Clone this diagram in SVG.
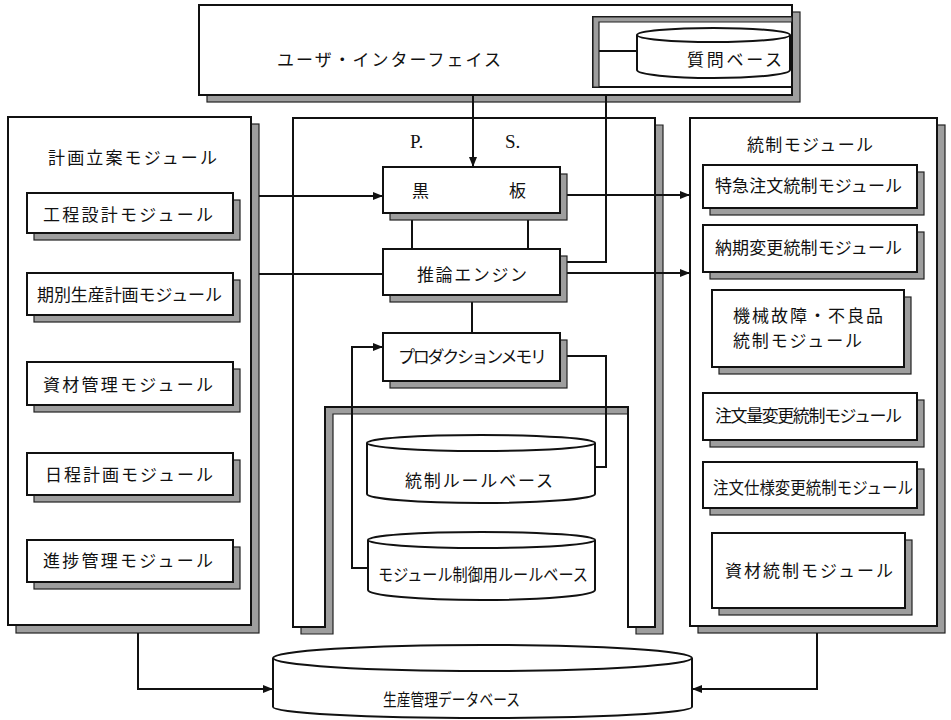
<svg xmlns="http://www.w3.org/2000/svg" width="951" height="720" viewBox="0 0 951 720">
<defs>
<style>
.bx{fill:#fff;stroke:#111;stroke-width:2}
.sh{fill:#9e9e9e;stroke:#222;stroke-width:1.2}
.ln{fill:none;stroke:#111;stroke-width:2}
.cy{fill:#fff;stroke:#111;stroke-width:2}
.t{font-family:"Noto Sans CJK JP","Noto Sans CJK SC",sans-serif;font-size:17px;fill:#111}
.s{font-family:"Liberation Serif",serif;font-size:19px;fill:#111}
</style>
<marker id="ah" viewBox="0 0 10 8" refX="10" refY="4" markerWidth="10" markerHeight="8" markerUnits="userSpaceOnUse" orient="auto">
<path d="M0,0 L10,4 L0,8 Z" fill="#111"/>
</marker>
</defs>
<rect width="951" height="720" fill="#fff"/>

<g id="ui">
<rect class="sh" x="207" y="12" width="593" height="90"/>
<rect class="bx" x="199" y="5" width="593" height="90"/>
<text class="t" x="277" y="66" textLength="224" lengthAdjust="spacing">ユーザ・インターフェイス</text>
</g>
<g id="qbase">
<rect class="bx" x="593" y="17" width="199" height="70"/>
<path class="sh" d="M593,17 H792 V22 H599 V87 H593 Z"/>
<line class="ln" x1="599" y1="51" x2="637" y2="51"/>
<path class="cy" d="M637,35 V70 A76.5,8 0 0 0 790,70 V35 A76.5,7 0 0 0 637,35 Z"/>
<path class="ln" d="M637,35 A76.5,7 0 0 0 790,35"/>
<text class="t" x="687" y="66" textLength="95" lengthAdjust="spacing">質問ベース</text>
</g>

<g id="plan">
<rect class="sh" x="16" y="124" width="243" height="509"/>
<rect class="bx" x="8" y="117" width="243" height="508"/>
<text class="t" x="48" y="164" textLength="169" lengthAdjust="spacing">計画立案モジュール</text>
</g>
<g id="ps">
<path class="sh" d="M301,125 H663 V634 H636 V414 H333 V634 H301 Z"/>
<path class="bx" d="M293,118 H655 V627 H628 V407 H325 V627 H293 Z"/>
<text class="s" x="410" y="148">P.</text>
<text class="s" x="505" y="148">S.</text>
</g>
<g id="ctrl">
<rect class="sh" x="698" y="125" width="247" height="508"/>
<rect class="bx" x="690" y="118" width="247" height="508"/>
<text class="t" x="747" y="151" textLength="126" lengthAdjust="spacing">統制モジュール</text>
</g>

<g id="connectors">
<line class="ln" x1="473" y1="95" x2="473" y2="167" marker-end="url(#ah)"/>
<path class="ln" d="M606,95 V262 H567"/>
<line class="ln" x1="259" y1="196" x2="383" y2="196" marker-end="url(#ah)"/>
<line class="ln" x1="259" y1="274" x2="383" y2="274"/>
<line class="ln" x1="567" y1="195" x2="690" y2="195" marker-end="url(#ah)"/>
<line class="ln" x1="567" y1="273" x2="690" y2="273" marker-end="url(#ah)"/>
<line class="ln" x1="412" y1="213" x2="412" y2="249"/>
<line class="ln" x1="528" y1="213" x2="528" y2="249"/>
<line class="ln" x1="472" y1="300" x2="472" y2="333"/>
<path class="ln" d="M368,568 H352 V347 H383" marker-end="url(#ah)"/>
<path class="ln" d="M567,356 H606 V467 H595"/>
<path class="ln" d="M138,633 V689 H273" marker-end="url(#ah)"/>
<path class="ln" d="M817,633 V689 H692" marker-end="url(#ah)"/>
</g>

<g id="kokuban">
<rect class="sh" x="390" y="174" width="177" height="46"/>
<rect class="bx" x="383" y="167" width="177" height="46"/>
<text class="t" x="412" y="197">黒</text>
<text class="t" x="509" y="197">板</text>
</g>
<g id="engine">
<rect class="sh" x="390" y="256" width="177" height="46"/>
<rect class="bx" x="383" y="249" width="177" height="46"/>
<text class="t" x="417" y="281" textLength="110" lengthAdjust="spacing">推論エンジン</text>
</g>
<g id="pm">
<rect class="sh" x="390" y="340" width="177" height="48"/>
<rect class="bx" x="383" y="333" width="177" height="48"/>
<text class="t" x="398" y="363" font-size="15" textLength="149" lengthAdjust="spacing">プロダクションメモリ</text>
</g>
<g id="rb1">
<path class="cy" d="M367,443 V494 A114,9 0 0 0 595,494 V443 A114,8 0 0 0 367,443 Z"/>
<path class="ln" d="M367,443 A114,8 0 0 0 595,443"/>
<text class="t" x="405" y="487" font-size="18" textLength="148" lengthAdjust="spacing">統制ルールベース</text>
</g>
<g id="rb2">
<path class="cy" d="M368,540 V590 A113.5,10 0 0 0 595,590 V540 A113.5,8 0 0 0 368,540 Z"/>
<path class="ln" d="M368,540 A113.5,8 0 0 0 595,540"/>
<text class="t" x="378" y="581" font-size="15" textLength="210" lengthAdjust="spacingAndGlyphs">モジュール制御用ルールベース</text>
</g>

<g id="p1"><rect class="sh" x="34" y="200" width="206" height="40"/><rect class="bx" x="27" y="193" width="206" height="40"/>
<text class="t" x="43" y="221" textLength="170" lengthAdjust="spacing">工程設計モジュール</text></g>
<g id="p2"><rect class="sh" x="34" y="280" width="206" height="42"/><rect class="bx" x="27" y="273" width="206" height="42"/>
<text class="t" x="37" y="301" textLength="185" lengthAdjust="spacing">期別生産計画モジュール</text></g>
<g id="p3"><rect class="sh" x="34" y="369" width="206" height="43"/><rect class="bx" x="27" y="362" width="206" height="43"/>
<text class="t" x="43" y="391" textLength="170" lengthAdjust="spacing">資材管理モジュール</text></g>
<g id="p4"><rect class="sh" x="34" y="460" width="206" height="42"/><rect class="bx" x="27" y="453" width="206" height="42"/>
<text class="t" x="45" y="481" textLength="168" lengthAdjust="spacing">日程計画モジュール</text></g>
<g id="p5"><rect class="sh" x="34" y="547" width="206" height="42"/><rect class="bx" x="27" y="540" width="206" height="42"/>
<text class="t" x="43" y="567" textLength="170" lengthAdjust="spacing">進捗管理モジュール</text></g>

<g id="c1"><rect class="sh" x="710" y="172" width="214" height="43"/><rect class="bx" x="703" y="165" width="214" height="43"/>
<text class="t" x="715" y="192" textLength="187" lengthAdjust="spacing">特急注文統制モジュール</text></g>
<g id="c2"><rect class="sh" x="710" y="232" width="214" height="47"/><rect class="bx" x="703" y="225" width="214" height="47"/>
<text class="t" x="715" y="254" textLength="187" lengthAdjust="spacing">納期変更統制モジュール</text></g>
<g id="c3"><rect class="sh" x="719" y="297" width="192" height="77"/><rect class="bx" x="712" y="290" width="192" height="77"/>
<text class="t" x="733" y="322" font-size="16" textLength="150" lengthAdjust="spacing">機械故障・不良品</text>
<text class="t" x="733" y="347" font-size="16" textLength="129" lengthAdjust="spacing">統制モジュール</text></g>
<g id="c4"><rect class="sh" x="710" y="400" width="214" height="47"/><rect class="bx" x="703" y="393" width="214" height="47"/>
<text class="t" x="715" y="422" textLength="187" lengthAdjust="spacing">注文量変更統制モジュール</text></g>
<g id="c5"><rect class="sh" x="710" y="469" width="214" height="46"/><rect class="bx" x="703" y="462" width="214" height="46"/>
<text class="t" x="713" y="494" font-size="16" textLength="200" lengthAdjust="spacingAndGlyphs">注文仕様変更統制モジュール</text></g>
<g id="c6"><rect class="sh" x="719" y="540" width="193" height="75"/><rect class="bx" x="712" y="533" width="193" height="75"/>
<text class="t" x="725" y="577" textLength="168" lengthAdjust="spacing">資材統制モジュール</text></g>

<g id="db">
<path class="cy" d="M273,658 V707 A209.5,11 0 0 0 692,707 V658 A209.5,13 0 0 0 273,658 Z"/>
<path class="ln" d="M273,658 A209.5,13 0 0 0 692,658"/>
<text class="t" x="383" y="706" font-size="18" textLength="137" lengthAdjust="spacingAndGlyphs">生産管理データベース</text>
</g>
</svg>
